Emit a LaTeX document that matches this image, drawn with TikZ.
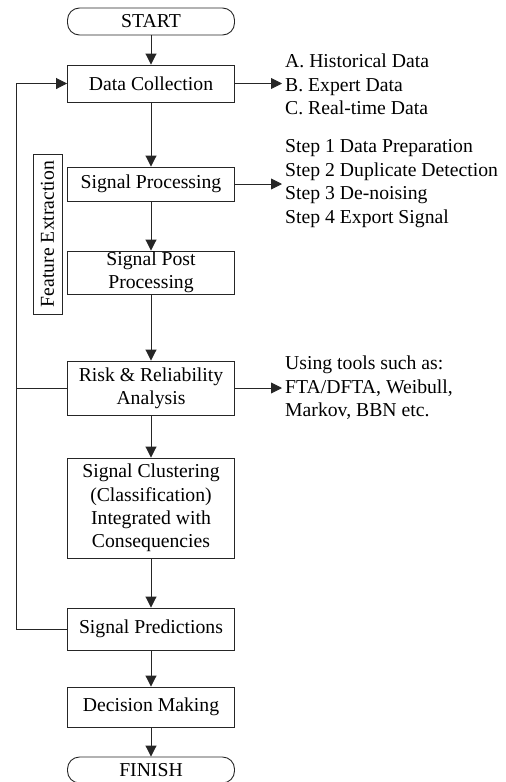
\documentclass[tikz,border=0pt]{standalone}
\usepackage{fontspec}
\setmainfont{Liberation Serif}
\usetikzlibrary{arrows.meta}
\begin{document}
\begin{tikzpicture}[x=1pt,y=-1pt,
  every node/.style={font=\fontsize{19.7}{23.4}\selectfont},
  box/.style={draw=black!85,line width=0.9pt,minimum width=167pt,inner sep=0pt,align=center},
  term/.style={box,rounded corners=12pt},
  info/.style={anchor=west,align=left,inner sep=0pt},
  conn/.style={draw=black!85,line width=0.9pt},
  arr/.style={conn,-{Triangle[length=11pt,width=11pt]}}]
\useasboundingbox (0,0) rectangle (506,782);
\node[term,minimum height=27pt] (start) at (151,21.5) {START};
\node[box,minimum height=37pt] (dc) at (151,83.5) {Data Collection};
\node[box,minimum height=34pt] (sp) at (151,184) {Signal Processing};
\node[box,minimum height=43pt] (spp) at (151,272.5) {Signal Post\\Processing};
\node[box,minimum height=54pt] (rr) at (151,388) {Risk \& Reliability\\Analysis};
\node[box,minimum height=100pt] (sc) at (151,508) {Signal Clustering\\(Classification)\\Integrated with\\Consequencies};
\node[box,minimum height=42pt] (pred) at (151,629) {Signal Predictions};
\node[box,minimum height=40pt] (dm) at (151,707) {Decision Making};
\node[term,minimum height=26pt] (fin) at (151,770) {FINISH};
\node[draw=black!85,line width=0.9pt,rotate=90,minimum width=160pt,minimum height=29pt,inner sep=0pt] (fe) at (47.5,234) {Feature Extraction};
\node[info] (dcinfo) at (285,84.5) {A. Historical Data\\B. Expert Data\\C. Real-time Data};
\node[info] (spinfo) at (285,183.5) {Step 1 Data Preparation\\Step 2 Duplicate Detection\\Step 3 De-noising\\Step 4 Export Signal};
\node[info] (rrinfo) at (285,388) {Using tools such as:\\FTA/DFTA, Weibull,\\Markov, BBN etc.};
\coordinate (lt) at (16.7,83.5);
\coordinate (lm) at (16.7,388);
\coordinate (lb) at (16.7,629);
\draw[arr] (start) -- (dc);
\draw[arr] (dc) -- (sp);
\draw[arr] (sp) -- (spp);
\draw[arr] (spp) -- (rr);
\draw[arr] (rr) -- (sc);
\draw[arr] (sc) -- (pred);
\draw[arr] (pred) -- (dm);
\draw[arr] (dm) -- (fin);
\draw[arr] (dc.east) -- ([xshift=-3pt]dc.east -| dcinfo.west);
\draw[arr] (sp.east) -- ([xshift=-3pt]sp.east -| spinfo.west);
\draw[arr] (rr.east) -- ([xshift=-3pt]rr.east -| rrinfo.west);
\draw[arr] (pred.west) -- (lb) -- (lt) -- (dc.west);
\draw[conn] (rr.west) -- (lm);
\end{tikzpicture}
\end{document}
